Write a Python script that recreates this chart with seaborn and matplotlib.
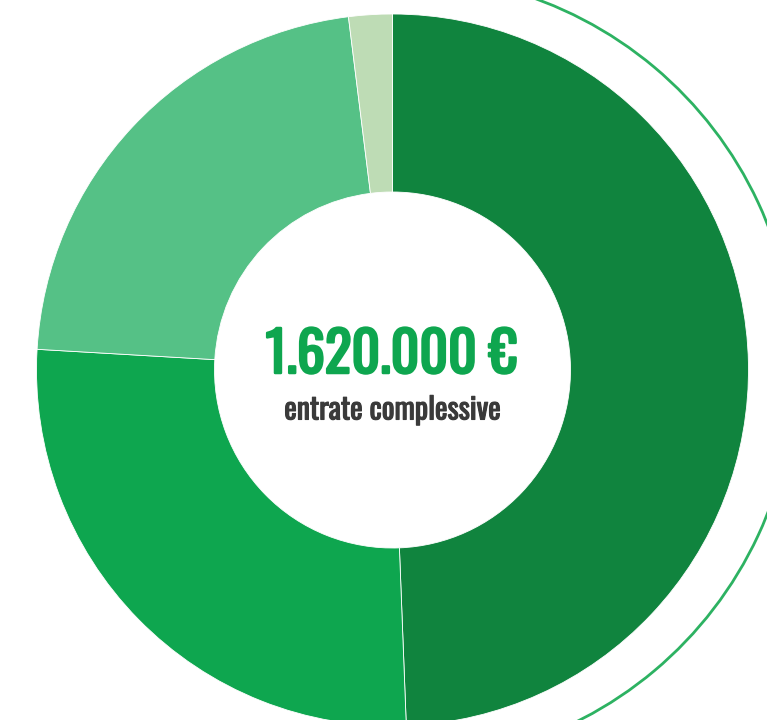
import matplotlib
matplotlib.use('Agg')
import matplotlib.pyplot as plt
import seaborn as sns
import numpy as np
from matplotlib import font_manager
from matplotlib.font_manager import FontProperties
from matplotlib.patches import Arc
import matplotlib.patheffects as pe

# ---- data ----
categories = ['Voce A', 'Voce B', 'Voce C', 'Voce D']
values = [800000, 430000, 358000, 32000]
colors = ['#10843e', '#0ea64f', '#55c186', '#bedcb5']
total_label = '1.620.000 €'
sub_label = 'entrate complessive'

sns.set_theme(style='white')


def pick_font(weight='bold'):
    prefs = ['Oswald', 'Roboto Condensed', 'Liberation Sans Narrow',
             'Open Sans Condensed', 'DejaVu Sans']
    for name in prefs:
        try:
            path = font_manager.findfont(
                FontProperties(family=name, weight=weight, stretch='condensed'),
                fallback_to_default=False)
            return path
        except Exception:
            continue
    return font_manager.findfont(FontProperties(weight=weight))


font_path = pick_font('bold')
fp_big = FontProperties(fname=font_path, size=40)
fp_small = FontProperties(fname=font_path, size=21.5)

W, H = 767, 720
fig = plt.figure(figsize=(W / 100, H / 100), dpi=100)
ax = fig.add_axes([0, 0, 1, 1])

cx, cy = 392.5, H - 370
R = 356
ax.pie(values, labels=None, colors=colors, radius=R, center=(cx, cy),
       startangle=90, counterclock=False,
       wedgeprops=dict(width=178, edgecolor='white', linewidth=0.6),
       frame=True)
ax.set_xlim(0, W)
ax.set_ylim(0, H)
ax.set_axis_off()

# outer thin arc
arc = Arc((401, H - 369), 2 * 394, 2 * 394, theta1=-100, theta2=100,
          color='#2db262', lw=2.0)
ax.add_patch(arc)

big_col = '#0ea64f'
small_col = '#3a3a3a'
ax.text(cx - 1, H - 355, total_label, ha='center', va='center',
        color=big_col, fontproperties=fp_big,
        path_effects=[pe.withStroke(linewidth=1.8, foreground=big_col)])
ax.text(cx, H - 410, sub_label, ha='center', va='center',
        color=small_col, fontproperties=fp_small,
        path_effects=[pe.withStroke(linewidth=0.8, foreground=small_col)])

fig.savefig('out.png', dpi=100)
